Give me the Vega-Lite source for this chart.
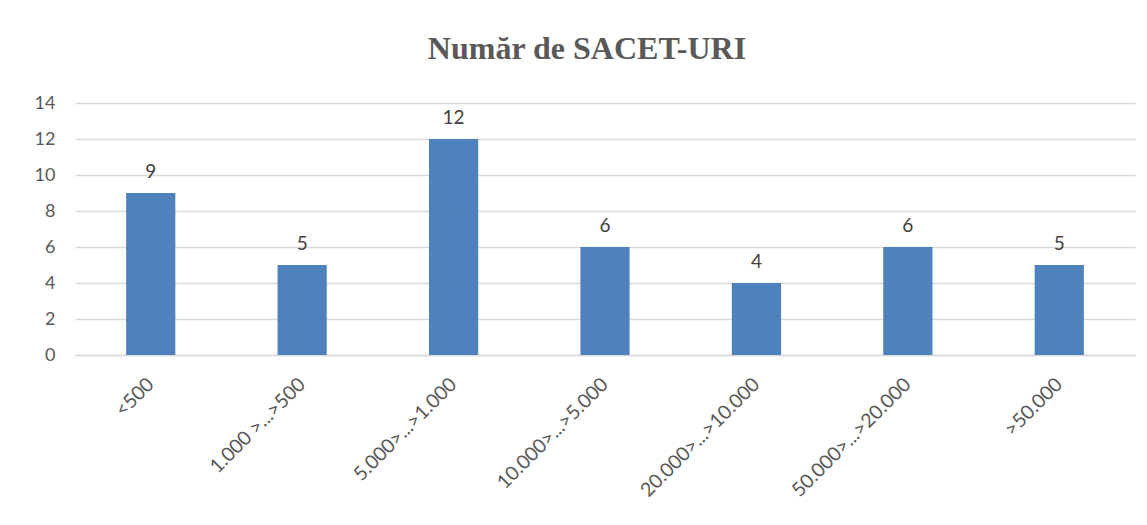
{
  "$schema": "https://vega.github.io/schema/vega-lite/v6.json",
  "width": 1060,
  "height": 252,
  "autosize": {"type": "none"},
  "padding": {"left": 75, "top": 103, "right": 12, "bottom": 170},
  "background": "white",
  "title": {
    "text": "Număr de SACET-URI",
    "font": "Liberation Serif",
    "fontSize": 32,
    "fontWeight": "bold",
    "color": "#595959",
    "anchor": "middle",
    "dx": -18,
    "offset": 28
  },
  "data": {
    "values": [
      {"cat": "<500", "n": 9},
      {"cat": "1.000 >...>500", "n": 5},
      {"cat": "5.000>...>1.000", "n": 12},
      {"cat": "10.000>...>5.000", "n": 6},
      {"cat": "20.000>...>10.000", "n": 4},
      {"cat": "50.000>...>20.000", "n": 6},
      {"cat": ">50.000", "n": 5}
    ]
  },
  "encoding": {
    "x": {
      "field": "cat",
      "type": "nominal",
      "sort": null,
      "scale": {"paddingInner": 0, "paddingOuter": 0},
      "axis": {
        "title": null,
        "labelAngle": -45,
        "labelAlign": "right",
        "labelBaseline": "middle",
        "labelFont": "Lato",
        "labelFontSize": 19.5,
        "labelColor": "#595959",
        "labelPadding": 26,
        "ticks": false,
        "domain": true,
        "domainColor": "#d9d9d9",
        "domainWidth": 1.5,
        "grid": false
      }
    },
    "y": {
      "field": "n",
      "type": "quantitative",
      "scale": {"domain": [0, 14]},
      "axis": {
        "title": null,
        "values": [0, 2, 4, 6, 8, 10, 12, 14],
        "labelFont": "Lato",
        "labelFontSize": 18,
        "labelColor": "#595959",
        "labelPadding": 20,
        "ticks": false,
        "domain": false,
        "grid": true,
        "gridColor": "#d9d9d9",
        "gridWidth": 1.5
      }
    }
  },
  "layer": [
    {
      "mark": {"type": "bar", "color": "#4f81bd", "width": {"band": 0.325}}
    },
    {
      "mark": {"type": "text", "baseline": "bottom", "dy": -11, "font": "Lato", "fontSize": 19, "color": "#404040"},
      "encoding": {"text": {"field": "n", "type": "quantitative"}}
    }
  ],
  "config": {"view": {"stroke": null}}
}
